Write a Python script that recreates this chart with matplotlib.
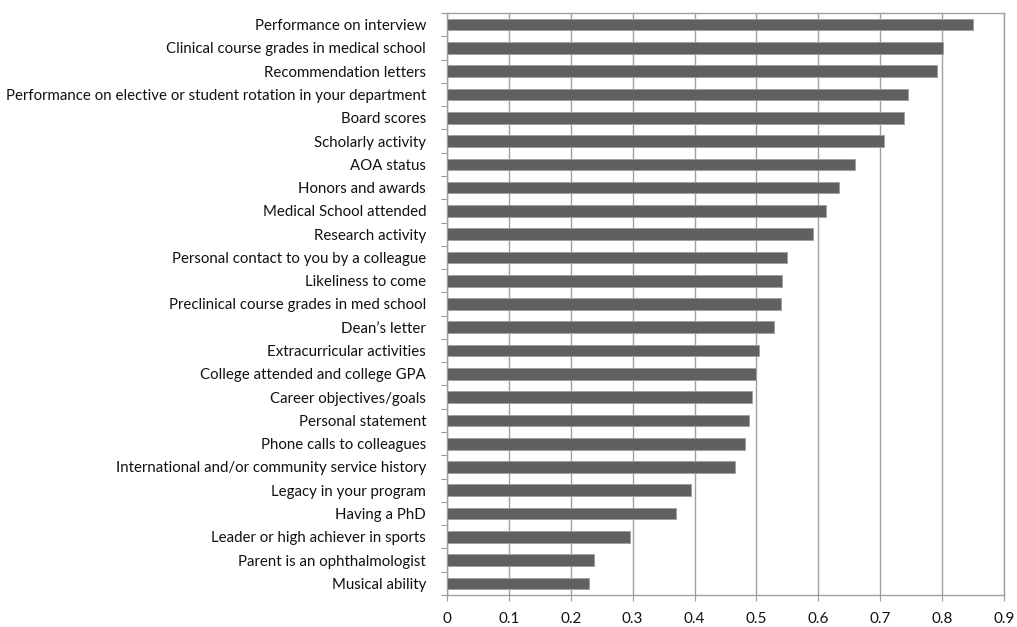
import matplotlib
matplotlib.use("Agg")
import matplotlib.pyplot as plt
import numpy as np

categories = [
    "Performance on interview",
    "Clinical course grades in medical school",
    "Recommendation letters",
    "Performance on elective or student rotation in your department",
    "Board scores",
    "Scholarly activity",
    "AOA status",
    "Honors and awards",
    "Medical School attended",
    "Research activity",
    "Personal contact to you by a colleague",
    "Likeliness to come",
    "Preclinical course grades in med school",
    "Dean\u2019s letter",
    "Extracurricular activities",
    "College attended and college GPA",
    "Career objectives/goals",
    "Personal statement",
    "Phone calls to colleagues",
    "International and/or community service history",
    "Legacy in your program",
    "Having a PhD",
    "Leader or high achiever in sports",
    "Parent is an ophthalmologist",
    "Musical ability",
]
values = [0.850, 0.802, 0.792, 0.745, 0.738, 0.706, 0.660, 0.634, 0.612,
          0.592, 0.549, 0.542, 0.539, 0.529, 0.504, 0.499, 0.493, 0.488,
          0.481, 0.465, 0.394, 0.370, 0.295, 0.238, 0.230]
xticks = [0, 0.1, 0.2, 0.3, 0.4, 0.5, 0.6, 0.7, 0.8, 0.9]
xticklabels = ["0", "0.1", "0.2", "0.3", "0.4", "0.5", "0.6", "0.7", "0.8", "0.9"]

plt.rcParams['font.family'] = ['Lato', 'DejaVu Sans']

fig = plt.figure(figsize=(10.17, 6.27), dpi=100)
ax = fig.add_axes([447/1017, 1 - 595/627, (1004 - 447)/1017, (595 - 13)/627])

n = len(categories)
y = np.arange(n)[::-1]
ax.barh(y, values, height=0.5, color='#606060', edgecolor='#a0a0a0', linewidth=0.7, zorder=3)

ax.set_xlim(0, 0.9)
ax.set_ylim(-0.5, n - 0.5)
ax.set_xticks(xticks)
ax.set_xticklabels(xticklabels, fontsize=11, color='#111111')
ax.set_yticks(y)
ax.set_yticklabels(categories, fontsize=10.8, color='#111111')
ax.tick_params(axis='y', length=0, pad=15)
ax.set_yticks(np.arange(n + 1) - 0.5, minor=True)
ax.tick_params(axis='y', which='minor', length=4, color='#999999', width=0.8)
ax.tick_params(axis='x', length=4, color='#999999', width=0.8, pad=8, direction='out')

ax.grid(axis='x', color='#a0a0a0', linewidth=1.0, zorder=0)
for s in ax.spines.values():
    s.set_color('#a0a0a0')
    s.set_linewidth(1.0)

fig.savefig("out.png", dpi=100, facecolor='white')
